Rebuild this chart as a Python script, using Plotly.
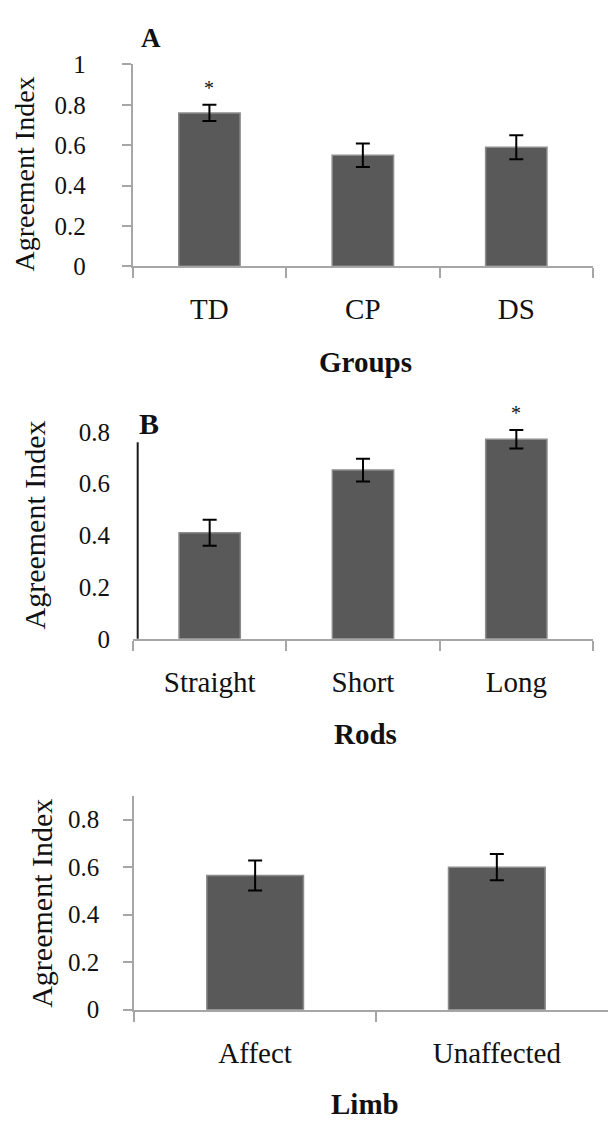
import plotly.graph_objects as go

# ---------------- data ----------------
groups = ["TD", "CP", "DS"]
groups_mean = [0.76, 0.55, 0.59]
groups_err = [0.04, 0.058, 0.059]
groups_sig = ["*", "", ""]

rods = ["Straight", "Short", "Long"]
rods_mean = [0.41, 0.652, 0.771]
rods_err = [0.05, 0.044, 0.036]
rods_sig = ["", "", "*"]

limb = ["Affect", "Unaffected"]
limb_mean = [0.565, 0.60]
limb_err = [0.063, 0.055]

y_title = "Agreement Index"
x_titles = ["Groups", "Rods", "Limb"]
panel_letters = ["A", "B"]

# ---------------- layout helpers ----------------
W, H = 608, 1135
def xd(px):
    return px / W
def yd(px):
    return 1 - px / H

FONT = '"Liberation Serif", serif'
BAR = "#595959"
BAR_LINE = "#8c8c8c"
AXIS = "#a6a6a6"
TXT = "#111111"

fig = go.Figure()

def add_bars(cats, means, errs, xa, ya):
    fig.add_trace(go.Bar(
        x=cats, y=means, xaxis=xa, yaxis=ya,
        marker=dict(color=BAR, line=dict(color=BAR_LINE, width=1.5)),
        error_y=dict(type="data", array=errs, visible=True,
                     color="black", thickness=2, width=7),
        cliponaxis=False,
        showlegend=False, hoverinfo="x+y",
    ))

add_bars(groups, groups_mean, groups_err, "x", "y")
add_bars(rods, rods_mean, rods_err, "x2", "y2")
add_bars(limb, limb_mean, limb_err, "x3", "y3")

def xaxis(domain, rng, standoff):
    return dict(domain=domain, range=rng, type="category",
                showline=True, linecolor=AXIS, linewidth=2,
                ticks="outside", tickson="boundaries", ticklen=10,
                tickcolor=AXIS, tickwidth=2, showgrid=False, zeroline=False,
                tickfont=dict(family=FONT, size=29, color=TXT),
                ticklabelstandoff=standoff, fixedrange=True)

def yaxis(domain, rng, anchor, ticks, show_line, standoff):
    return dict(domain=domain, range=rng, anchor=anchor,
                tickmode="array", tickvals=[0, 0.2, 0.4, 0.6, 0.8, 1.0][: int(round(rng[1] / 0.2 + 0.01)) + 1],
                showline=show_line, linecolor=AXIS, linewidth=2,
                ticks=ticks, ticklen=9, tickcolor=AXIS, tickwidth=2,
                showgrid=False, zeroline=False,
                tickfont=dict(family=FONT, size=25, color=TXT),
                ticklabelstandoff=standoff, fixedrange=True)

B_TOP = 0.9
fig.update_layout(
    width=W, height=H,
    margin=dict(l=0, r=0, t=0, b=0),
    paper_bgcolor="white", plot_bgcolor="white",
    bargap=0.6,
    font=dict(family=FONT, color=TXT),
    xaxis=dict(xaxis([xd(132.7), xd(593)], [-0.5, 2.5], 16), anchor="y"),
    yaxis=yaxis([yd(259.5), yd(52.7)], [0, 1], "x", "outside", True, 31),
    xaxis2=dict(xaxis([xd(133), xd(593)], [-0.5, 2.5], 16), anchor="y2"),
    yaxis2=yaxis([yd(641), yd(641 - B_TOP * 265)], [0, B_TOP], "x2", "", False, 22),
    xaxis3=dict(xaxis([xd(134.3), 1.0], [-0.5, 1.46], 16), anchor="y3"),
    yaxis3=yaxis([yd(1021), yd(802)], [0, 0.9], "x3", "outside", True, 19),
)

# black hand-drawn axis line of panel B
fig.add_shape(type="line", xref="x2 domain", yref="y2",
              x0=0.0102, x1=0.0102, y0=-0.04, y1=0.76,
              line=dict(color="#1a1a1a", width=2))

ann = []
# significance stars
for cats, means, errs, sig, xa, ya in [
    (groups, groups_mean, groups_err, groups_sig, "x", "y"),
    (rods, rods_mean, rods_err, rods_sig, "x2", "y2"),
]:
    for c, m, e, s in zip(cats, means, errs, sig):
        if s:
            ann.append(dict(x=c, y=m + e, xref=xa, yref=ya, text=s,
                            showarrow=False, yanchor="bottom", yshift=4,
                            font=dict(family=FONT, size=20, color=TXT)))

# y-axis titles (rotated)
for (cx, cy, size) in [(25, 165.5, 28), (35, 525, 30), (41.5, 912, 30)]:
    ann.append(dict(x=xd(cx), y=yd(cy), xref="paper", yref="paper",
                    text=y_title, textangle=-90, showarrow=False,
                    xanchor="center", yanchor="middle",
                    font=dict(family=FONT, size=size, color=TXT)))

# x-axis titles (bold)
for t, cy in zip(x_titles, [358, 739, 1118]):
    ann.append(dict(x=xd(365), y=yd(cy), xref="paper", yref="paper",
                    text="<b>%s</b>" % t, showarrow=False,
                    xanchor="center", yanchor="middle",
                    font=dict(family=FONT, size=29, color=TXT)))

# panel letters
for t, cx, cy, size in [(panel_letters[0], 151, 26, 27), (panel_letters[1], 149, 420, 30)]:
    ann.append(dict(x=xd(cx), y=yd(cy), xref="paper", yref="paper",
                    text="<b>%s</b>" % t, showarrow=False,
                    xanchor="center", yanchor="middle",
                    font=dict(family=FONT, size=size, color=TXT)))

fig.update_layout(annotations=ann)
fig.write_html("out.html", config={"displayModeBar": False})
